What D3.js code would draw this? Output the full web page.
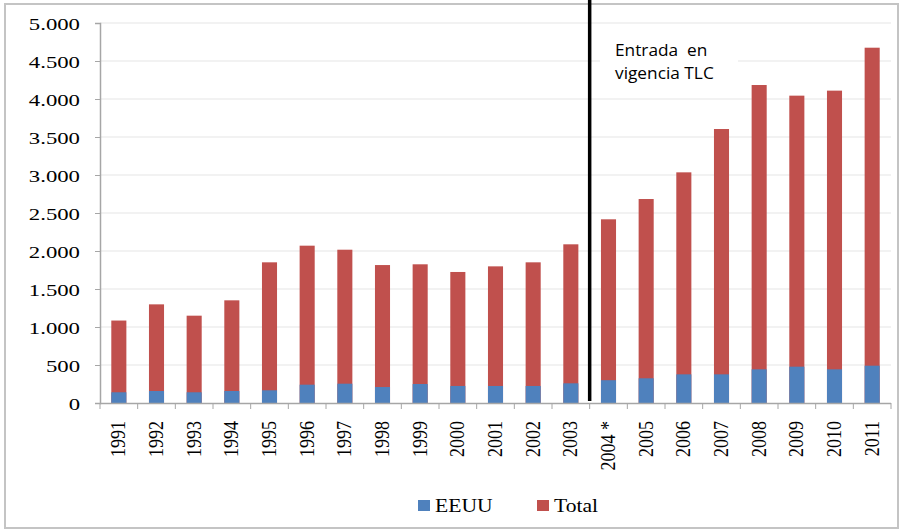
<!DOCTYPE html>
<html><head><meta charset="utf-8">
<script src="https://cdn.jsdelivr.net/npm/d3@7"></script>
<style>html,body{margin:0;padding:0;background:#fff;}svg{display:block;}</style>
</head><body>
<svg id="chart" width="899" height="529"></svg>
<script>
const years = ["1991","1992","1993","1994","1995","1996","1997","1998","1999","2000","2001","2002","2003","2004 *","2005","2006","2007","2008","2009","2010","2011"];
const totalValues = [1085,1298,1149,1351,1851,2070,2017,1815,1825,1724,1798,1851,2088,2417,2684,3035,3605,4184,4044,4110,4675];
const eeuuValues = [141,158,141,158,167,241,254,210,250,224,224,224,259,300,325,377,377,443,478,443,491];
const yTicks = [0,500,1000,1500,2000,2500,3000,3500,4000,4500,5000];
const seriesNames = ["EEUU","Total"];
const annotationLines = ["Entrada  en","vigencia TLC"];
const markerCategory = "2004 *";

const svg = d3.select("#chart");
const colors = {EEUU:"#4f81bd", Total:"#c0504d"};
const serif = "Liberation Serif";

// outer border
svg.append("rect").attr("x",5).attr("y",4).attr("width",893).attr("height",524)
  .attr("fill","none").attr("stroke","#c4c4c4").attr("stroke-width",2);

const x = d3.scaleBand().domain(years).range([100,891]).paddingInner(0.6).paddingOuter(0.3);
const y = d3.scaleLinear().domain([0,5000]).range([403,23]);

// gridlines
svg.append("g").selectAll("line").data(yTicks.filter(d=>d>0)).join("line")
  .attr("x1",100).attr("x2",891).attr("y1",d=>y(d)).attr("y2",d=>y(d))
  .attr("stroke","#eeeeee").attr("stroke-width",1.5);

// y axis
const yAxis = svg.append("g").attr("transform","translate(100,0)")
  .call(d3.axisLeft(y).tickValues(yTicks).tickSize(5).tickPadding(0).tickFormat(d=>d3.format(",")(d).replace(/,/g,".")));
yAxis.attr("font-family",serif);
yAxis.select(".domain").attr("stroke","#a6a6a6").attr("stroke-width",1.5);
yAxis.selectAll(".tick line").attr("stroke","#a6a6a6");
yAxis.selectAll(".tick text").attr("x",null).attr("dy",null).attr("text-anchor","end")
  .style("font-family",serif).attr("font-size",17.5).attr("fill","#000")
  .attr("transform","translate(-20,6) scale(1.3,1)");

// bars
const barsG = svg.append("g");
barsG.selectAll("rect.total").data(years).join("rect").attr("class","total")
  .attr("x",d=>x(d)).attr("width",x.bandwidth())
  .attr("y",(d,i)=>y(totalValues[i])).attr("height",(d,i)=>y(0)-y(totalValues[i]))
  .attr("fill",colors.Total);
barsG.selectAll("rect.eeuu").data(years).join("rect").attr("class","eeuu")
  .attr("x",d=>x(d)).attr("width",x.bandwidth())
  .attr("y",(d,i)=>y(eeuuValues[i])).attr("height",(d,i)=>y(0)-y(eeuuValues[i]))
  .attr("fill",colors.EEUU);

// x axis
const step = x.step();
const boundaries = years.map(d=>x(d) - step*0.3).concat([x(years[years.length-1]) + x.bandwidth() + step*0.3]);
svg.append("line").attr("x1",100).attr("x2",891).attr("y1",403.5).attr("y2",403.5)
  .attr("stroke","#a6a6a6").attr("stroke-width",1.5);
svg.append("g").selectAll("line").data(boundaries).join("line")
  .attr("x1",d=>d).attr("x2",d=>d).attr("y1",403).attr("y2",409)
  .attr("stroke","#a6a6a6").attr("stroke-width",1);
svg.append("g").selectAll("text").data(years).join("text")
  .attr("transform",d=>`translate(${x(d)+x.bandwidth()/2+6.5},421) rotate(-90) scale(1,1.15)`)
  .attr("text-anchor","end")
  .style("font-family",serif).attr("font-size",18).attr("fill","#000")
  .text(d=>d);

// annotation line
const lineX = x(markerCategory) - step*0.3;
svg.append("line").attr("x1",lineX).attr("x2",lineX).attr("y1",0).attr("y2",401)
  .attr("stroke","#000").attr("stroke-width",3.5);

// annotation box
svg.append("rect").attr("x",600).attr("y",30).attr("width",138).attr("height",62).attr("fill","#fff");
svg.append("g").selectAll("text").data(annotationLines).join("text")
  .attr("transform",(d,i)=>`translate(615,${56+i*23}) scale(1.08,1)`)
  .style("font-family","'Open Sans','Liberation Sans',sans-serif").attr("font-size",16).attr("fill","#000")
  .style("white-space","pre")
  .text(d=>d);

// legend
const legendX = [418,537];
const lg = svg.append("g").selectAll("g").data(seriesNames).join("g")
  .attr("transform",(d,i)=>`translate(${legendX[i]},500)`);
lg.append("rect").attr("width",12).attr("height",11).attr("fill",d=>colors[d]);
lg.append("text").attr("transform","translate(17,12) scale(1.2,1)")
  .style("font-family",serif).attr("font-size",18).attr("fill","#000").text(d=>d);
</script>
</body></html>
